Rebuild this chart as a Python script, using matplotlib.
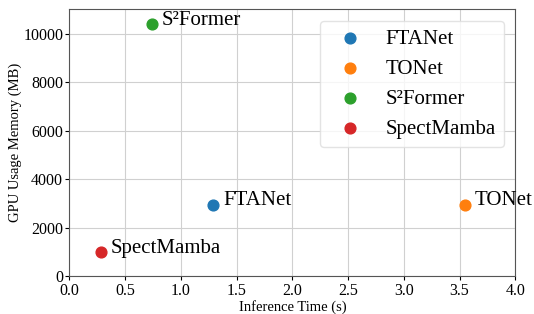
import matplotlib
matplotlib.use('Agg')
import matplotlib.pyplot as plt

plt.rcParams['font.family'] = ['Liberation Serif', 'DejaVu Serif']

# 模型名称、推理时间(s)、显存占用(MB)
models = ['FTANet', 'TONet', 'S²Former', 'SpectMamba']
infer_time = [1.29, 3.55, 0.74, 0.28]
gpu_memory = [2950, 2950, 10380, 985]
colors = ['#1f77b4', '#ff7f0e', '#2ca02c', '#d62728']

fig, ax = plt.subplots(figsize=(5.34, 3.14), dpi=100)

for name, t, m, c in zip(models, infer_time, gpu_memory, colors):
    ax.scatter(t, m, s=60, color=c, label=name, zorder=3)
    ax.annotate(name, (t, m), xytext=(7, 3), textcoords='offset points',
                fontsize=15, va='center', ha='left')

ax.set_xlim(0, 4.0)
ax.set_ylim(0, 11000)
ax.set_xticks([0.0, 0.5, 1.0, 1.5, 2.0, 2.5, 3.0, 3.5, 4.0])
ax.set_yticks([0, 2000, 4000, 6000, 8000, 10000])
ax.tick_params(labelsize=11.5, length=3, pad=1.5)
ax.grid(True, color='#d0d0d0', linewidth=0.8)
ax.set_axisbelow(True)
for sp in ax.spines.values():
    sp.set_color('#555555')

ax.set_xlabel('Inference Time (s)', fontsize=10.5, labelpad=1)
ax.set_ylabel('GPU Usage Memory (MB)', fontsize=10.5, labelpad=1)

ax.legend(loc='upper right', fontsize=15, markerscale=1.0, handletextpad=0.7,
          handlelength=2.03, borderpad=0.4, labelspacing=0.5, framealpha=0.8,
          edgecolor='#dddddd', borderaxespad=0.55)

fig.subplots_adjust(left=0.13, right=0.965, top=0.97, bottom=0.12)
fig.savefig('out.png', dpi=100)
